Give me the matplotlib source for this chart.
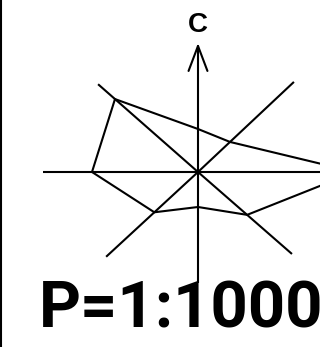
import numpy as np
import matplotlib
matplotlib.use("Agg")
import matplotlib.pyplot as plt
from matplotlib.lines import Line2D

# Spoke directions (degrees, screen space) and their lengths
directions = ['E', 'NE', 'N', 'NW', 'W', 'SW', 'S', 'SE']
spoke_angles = [0, 43.2, 90, 138.7, 180, 222.7, 270, 318.9]
spoke_lengths = [170, 131.6, 129, 133, 155, 125, 111, 124.7]
# Polygon radii along each spoke
poly_values = [157, 43.9, 43, 110.5, 106, 59.4, 35, 65.2]
axis_label = 'C'
title_text = 'P=1:10000'

W, H = 320, 347
fig = plt.figure(figsize=(W / 100, H / 100), dpi=100)
ax = fig.add_axes([0, 0, 1, 1])
ax.set_xlim(-198, W - 198)
ax.set_ylim(-(H - 172), 172)
ax.axis('off')

ang = np.radians(spoke_angles)
lw = 1.5
for d, a, L in zip(directions, ang, spoke_lengths):
    ex, ey = L * np.cos(a), L * np.sin(a)
    if d == 'N':
        ax.annotate('', xy=(ex, ey), xytext=(0, 0),
                    arrowprops=dict(arrowstyle='->,head_length=18,head_width=6.8',
                                    mutation_scale=1, lw=lw, color='black',
                                    shrinkA=0, shrinkB=0))
    else:
        ax.plot([0, ex], [0, ey], color='black', lw=lw, solid_capstyle='butt')

r = np.array(poly_values + poly_values[:1])
aa = np.concatenate([ang, ang[:1]])
ax.plot(r * np.cos(aa), r * np.sin(aa), color='black', lw=lw,
        solid_joinstyle='miter')

ax.text(0, 140, axis_label, ha='center', va='baseline', fontsize=20,
        fontweight='bold', family='Liberation Sans')
ax.text(-159, -155, title_text, ha='left', va='baseline', fontsize=47,
        fontweight='bold', family='Roboto')

fig.add_artist(Line2D([1 / W, 1 / W], [0, 1], color='black', lw=1.5,
                      transform=fig.transFigure))

fig.savefig('out.png', dpi=100)
